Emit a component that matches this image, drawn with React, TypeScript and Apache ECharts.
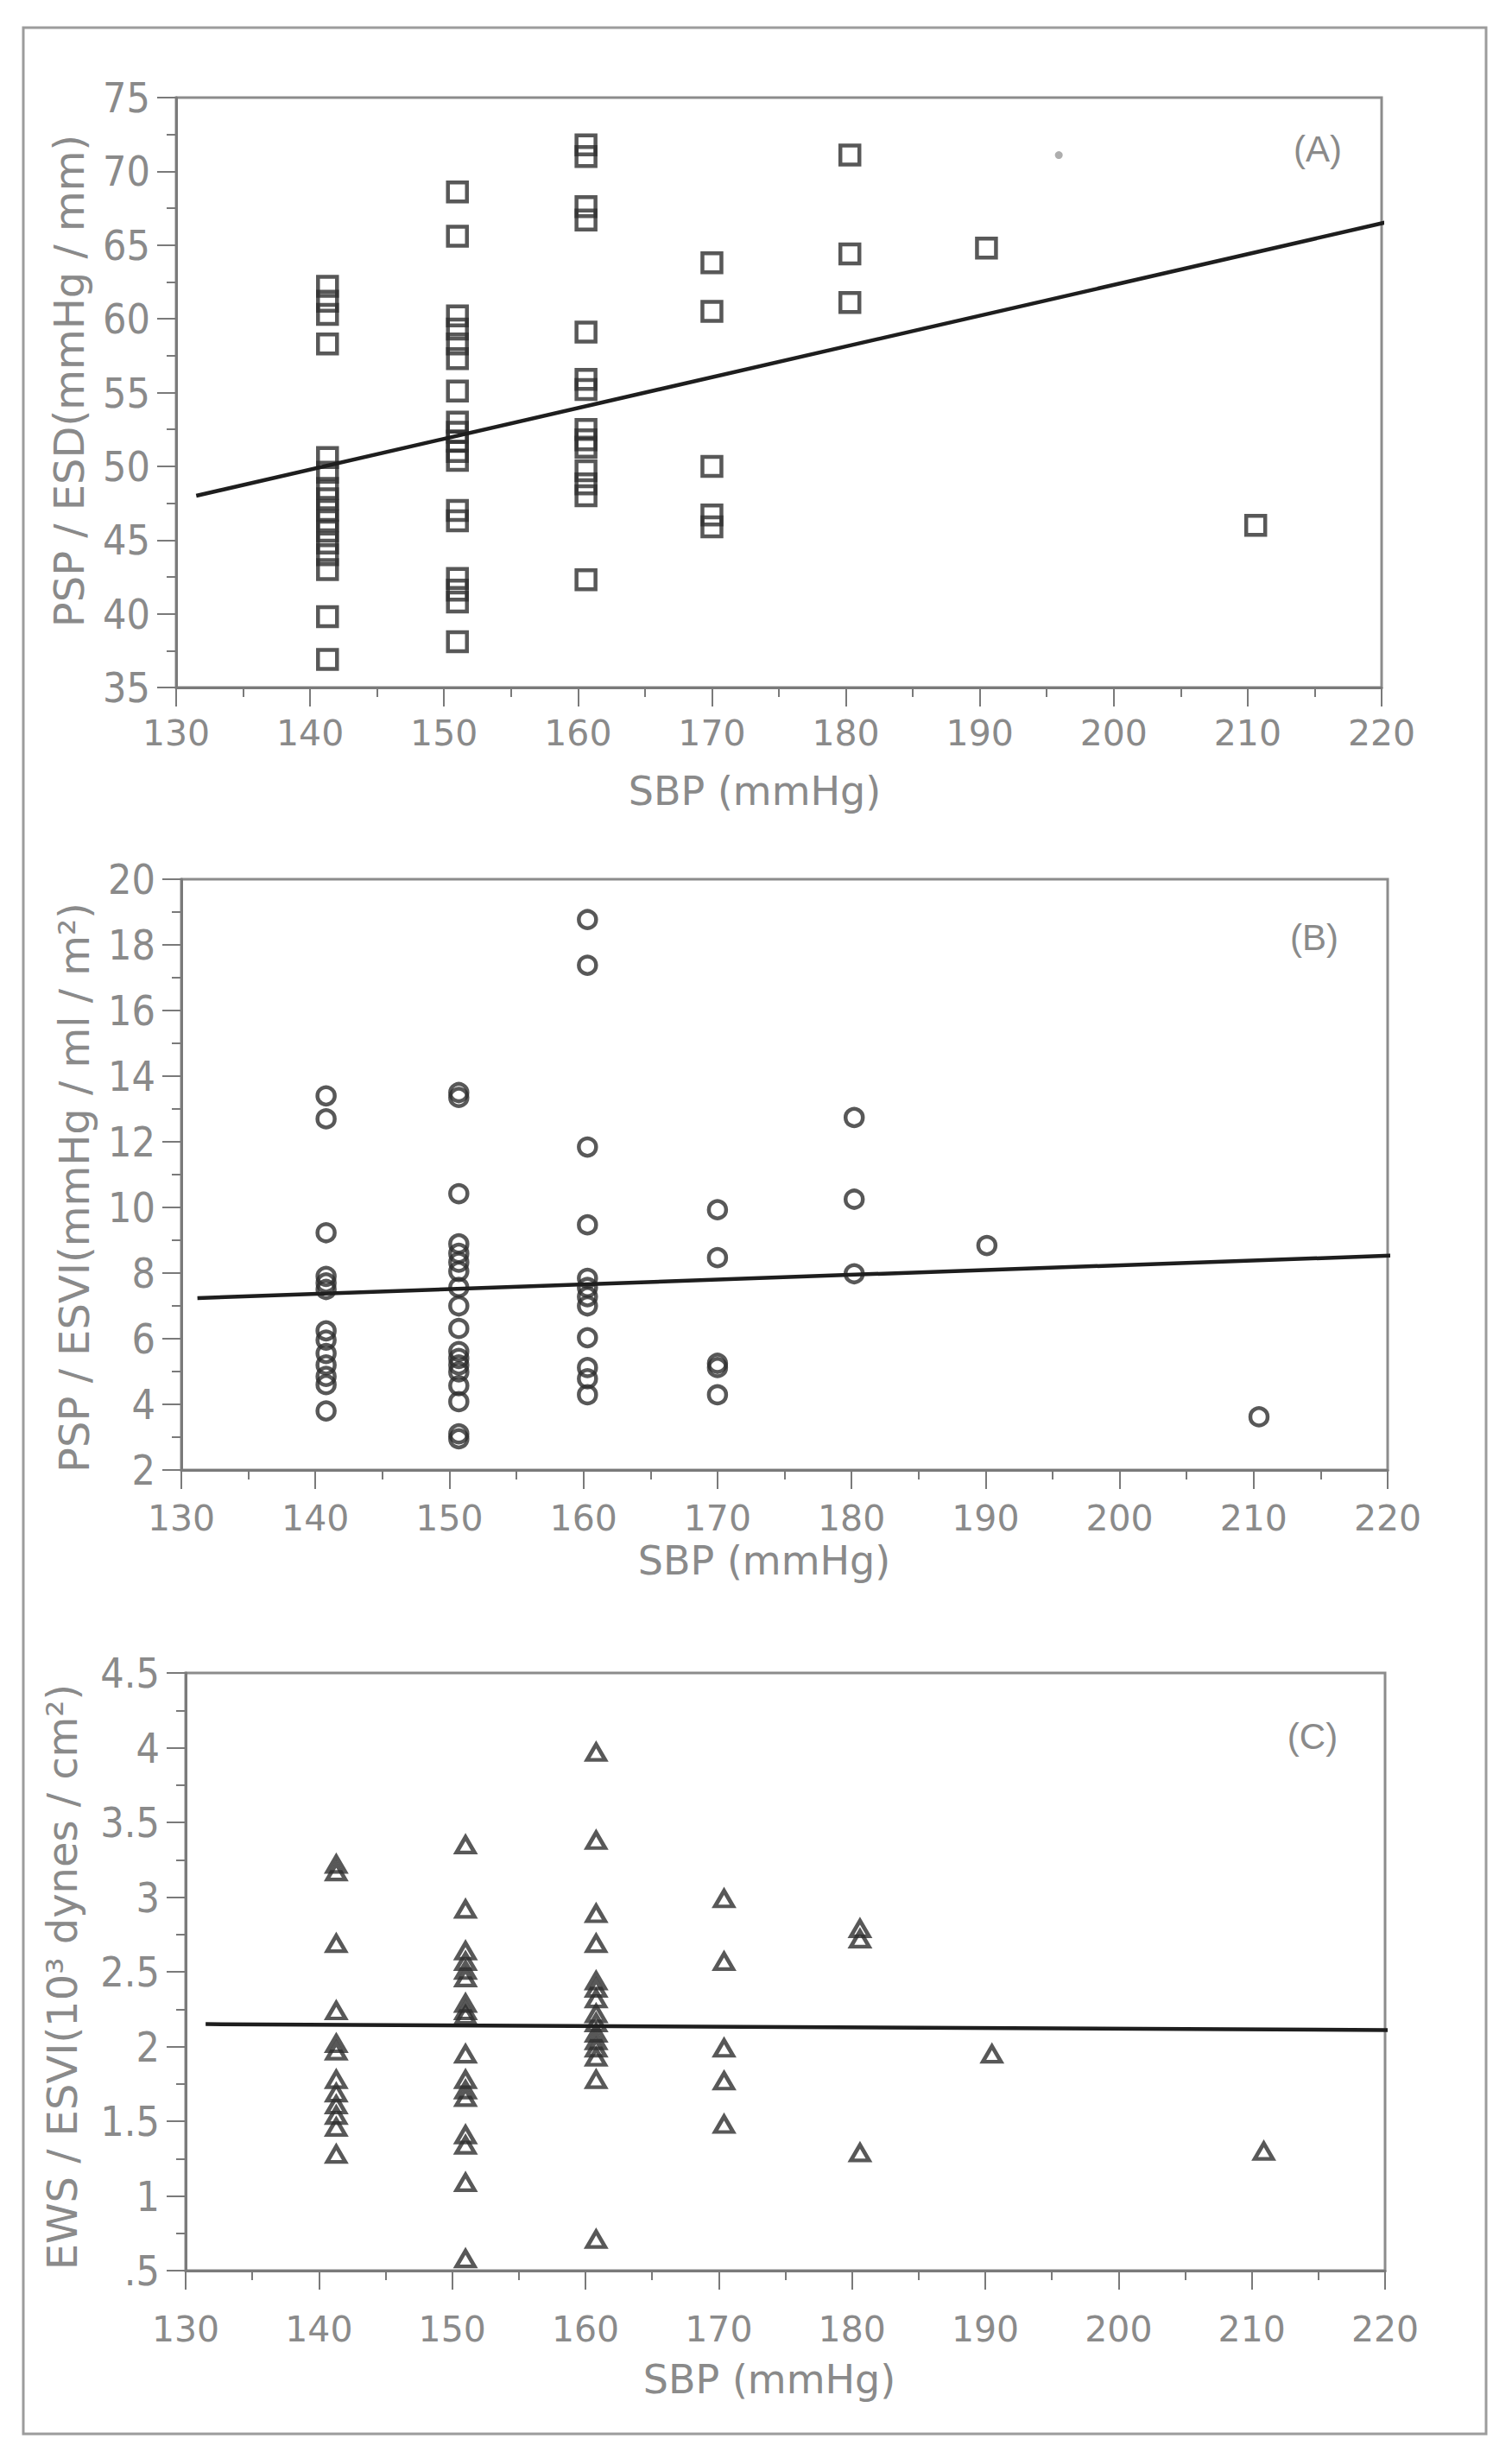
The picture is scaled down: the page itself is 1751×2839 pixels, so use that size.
import React, { useEffect, useRef } from "react";
import * as echarts from "echarts";

// ---------- data ----------
// Panel A: PSP / ESD vs SBP
const A_SBP = [141.3, 151.0, 160.6, 170.0, 180.3, 190.5, 210.6];
const A_PSP_ESD = [
  [62.2, 61.2, 60.3, 58.3, 50.6, 49.6, 48.5, 47.8, 47.0, 46.3, 45.6, 44.8, 44.0, 43.0, 39.8, 36.9],
  [68.6, 65.6, 60.2, 59.3, 58.3, 57.3, 55.1, 53.0, 52.3, 51.7, 51.0, 50.4, 47.0, 46.3, 42.4, 41.6, 40.8, 38.1],
  [71.8, 71.0, 67.6, 66.7, 59.1, 55.9, 55.2, 52.5, 51.8, 51.3, 49.7, 48.8, 48.0, 42.3],
  [63.8, 60.5, 50.0, 46.7, 45.9],
  [71.1, 64.4, 61.1],
  [64.8],
  [46.0],
];
const A_DOT = [[195.9, 71.1]];
const A_FIT = [[131.5, 48.0], [220.6, 66.6]];

// Panel B: PSP / ESVI vs SBP
const B_SBP = [140.8, 150.7, 160.3, 170.0, 180.2, 190.1, 210.4];
const B_PSP_ESVI = [
  [13.4, 12.7, 9.23, 7.9, 7.7, 7.5, 6.24, 5.96, 5.55, 5.2, 4.85, 4.6, 3.8],
  [13.5, 13.35, 10.42, 8.89, 8.6, 8.33, 8.05, 7.56, 7.0, 6.31, 5.61, 5.4, 5.2, 4.99, 4.57, 4.08, 3.1, 2.95],
  [18.77, 17.38, 11.84, 9.47, 7.84, 7.56, 7.28, 7.0, 6.03, 5.12, 4.78, 4.29],
  [9.93, 8.47, 5.25, 5.12, 4.29],
  [12.74, 10.25, 7.98],
  [8.84],
  [3.62],
];
const B_FIT = [[131.2, 7.24], [220.9, 8.54]];

// Panel C: EWS / ESVI vs SBP
const C_SBP = [141.3, 151.0, 160.8, 170.4, 180.6, 190.5, 210.9];
const C_EWS_ESVI = [
  [3.22, 3.17, 2.69, 2.24, 2.02, 1.97, 1.78, 1.69, 1.61, 1.54, 1.46, 1.28],
  [3.35, 2.92, 2.64, 2.57, 2.51, 2.46, 2.29, 2.24, 2.21, 1.95, 1.78, 1.71, 1.66, 1.41, 1.34, 1.09, 0.58],
  [3.97, 3.38, 2.89, 2.69, 2.44, 2.39, 2.32, 2.22, 2.16, 2.09, 2.04, 1.99, 1.93, 1.78, 0.71],
  [2.99, 2.57, 1.99, 1.77, 1.48],
  [2.79, 2.72, 1.29],
  [1.95],
  [1.3],
];
const C_FIT = [[131.5, 2.15], [221.2, 2.11]];

const X_TITLE = "SBP (mmHg)";
const Y_TITLES = [
  "PSP / ESD(mmHg / mm)",
  "PSP / ESVI(mmHg / ml / m²)",
  "EWS / ESVI(10³ dynes / cm²)",
];
const PANEL_LABELS = ["(A)", "(B)", "(C)"];

// ---------- helpers ----------
function toPoints(xs: number[], groups: number[][]) {
  const out: number[][] = [];
  groups.forEach((g, i) => g.forEach((v) => out.push([xs[i], v])));
  return out;
}

const GREY_TEXT = "#8a8a8a";
const AXIS_COLOR = "#7a7a7a";
const MARK_COLOR = "#2e2e2e";
const Y_FONT = '"Liberation Sans Narrow", "DejaVu Sans Condensed", "Liberation Sans", sans-serif';
const X_FONT = '"DejaVu Sans", "Liberation Sans", sans-serif';

const GRIDS = [
  { left: 204, top: 113, width: 1396, height: 683 },
  { left: 210, top: 1018, width: 1397, height: 684 },
  { left: 215, top: 1937, width: 1389, height: 692 },
];
const Y_RANGES = [
  { min: 35, max: 75, interval: 5 },
  { min: 2, max: 20, interval: 2 },
  { min: 0.5, max: 4.5, interval: 0.5 },
];
const X_LABEL_MARGINS = [32, 35, 47];

export default function App() {
  const ref = useRef<HTMLDivElement>(null);

  useEffect(() => {
    if (!ref.current) return;
    const chart = echarts.init(ref.current, undefined, { renderer: "svg" });

    const xAxis = GRIDS.map((_, i) => ({
      type: "value",
      gridIndex: i,
      min: 130,
      max: 220,
      interval: 10,
      splitLine: { show: false },
      axisLine: { show: true, lineStyle: { color: AXIS_COLOR, width: 3 } },
      axisTick: { show: true, length: 22, lineStyle: { color: AXIS_COLOR, width: 2 } },
      minorTick: { show: true, splitNumber: 2, length: 11, lineStyle: { color: AXIS_COLOR, width: 2 } },
      axisLabel: {
        margin: X_LABEL_MARGINS[i],
        color: GREY_TEXT,
        fontSize: 41,
        fontFamily: X_FONT,
      },
    }));

    const yAxis = GRIDS.map((_, i) => ({
      type: "value",
      gridIndex: i,
      min: Y_RANGES[i].min,
      max: Y_RANGES[i].max,
      interval: Y_RANGES[i].interval,
      splitLine: { show: false },
      axisLine: { show: true, lineStyle: { color: AXIS_COLOR, width: 3 } },
      axisTick: { show: true, length: 22, lineStyle: { color: AXIS_COLOR, width: 2 } },
      minorTick: { show: true, splitNumber: 2, length: 11, lineStyle: { color: AXIS_COLOR, width: 2 } },
      axisLabel: {
        margin: 30,
        color: GREY_TEXT,
        fontSize: 48,
        fontFamily: Y_FONT,
        formatter: (v: number) => (v === 0.5 ? ".5" : String(v)),
      },
    }));

    const grid = GRIDS.map((g) => ({
      ...g,
      show: true,
      borderColor: "#8c8c8c",
      borderWidth: 3,
      backgroundColor: "transparent",
    }));

    const hollow = (symbol: string, size: number | number[]) => ({
      symbol,
      symbolSize: size,
      itemStyle: { color: "rgba(0,0,0,0)", borderColor: MARK_COLOR, borderWidth: 4.5 },
    });

    const fitLine = (data: number[][], i: number) => ({
      type: "line",
      xAxisIndex: i,
      yAxisIndex: i,
      data,
      showSymbol: false,
      symbol: "none",
      clip: false,
      lineStyle: { color: "#1e1e1e", width: 4.5 },
      z: 3,
    });

    const series: any[] = [
      {
        type: "scatter",
        xAxisIndex: 0,
        yAxisIndex: 0,
        data: toPoints(A_SBP, A_PSP_ESD),
        ...hollow("rect", 22),
      },
      {
        type: "scatter",
        xAxisIndex: 0,
        yAxisIndex: 0,
        data: A_DOT,
        symbol: "circle",
        symbolSize: 9,
        itemStyle: { color: "#9a9a9a" },
      },
      fitLine(A_FIT, 0),
      {
        type: "scatter",
        xAxisIndex: 1,
        yAxisIndex: 1,
        data: toPoints(B_SBP, B_PSP_ESVI),
        ...hollow("circle", 20),
      },
      fitLine(B_FIT, 1),
      {
        type: "scatter",
        xAxisIndex: 2,
        yAxisIndex: 2,
        data: toPoints(C_SBP, C_EWS_ESVI),
        ...hollow("triangle", [21, 18]),
      },
      fitLine(C_FIT, 2),
    ];

    const textStyle = (text: string, size: number, family: string) => ({
      text,
      fill: GREY_TEXT,
      fontSize: size,
      fontFamily: family,
      textAlign: "center",
      textVerticalAlign: "middle",
      align: "center",
      verticalAlign: "middle",
    });

    const xTitlePos = [
      [874, 916],
      [885, 1807],
      [891, 2755],
    ];
    const yTitlePos = [
      [80, 441],
      [86, 1375],
      [72, 2289],
    ];
    const panelLabelPos = [
      [1526, 172],
      [1522, 1085],
      [1520, 2010],
    ];

    const graphic: any[] = [
      {
        type: "rect",
        shape: { x: 27, y: 32, width: 1694, height: 2786 },
        style: { fill: "none", stroke: "#9c9c9c", lineWidth: 3 },
        silent: true,
      },
    ];
    for (let i = 0; i < 3; i++) {
      graphic.push({
        type: "text",
        x: xTitlePos[i][0],
        y: xTitlePos[i][1],
        style: textStyle(X_TITLE, 46, X_FONT),
      });
      graphic.push({
        type: "text",
        x: yTitlePos[i][0],
        y: yTitlePos[i][1],
        rotation: Math.PI / 2,
        style: textStyle(Y_TITLES[i], 48, X_FONT),
      });
      graphic.push({
        type: "text",
        x: panelLabelPos[i][0],
        y: panelLabelPos[i][1],
        style: textStyle(PANEL_LABELS[i], 42, '"Liberation Sans", sans-serif'),
      });
    }

    chart.setOption({
      animation: false,
      backgroundColor: "#ffffff",
      grid,
      xAxis,
      yAxis,
      series,
      graphic,
    });

    return () => chart.dispose();
  }, []);

  return (
    <div
      ref={ref}
      style={{ position: "absolute", left: 0, top: 0, width: 1751, height: 2839, background: "#fff" }}
    />
  );
}
